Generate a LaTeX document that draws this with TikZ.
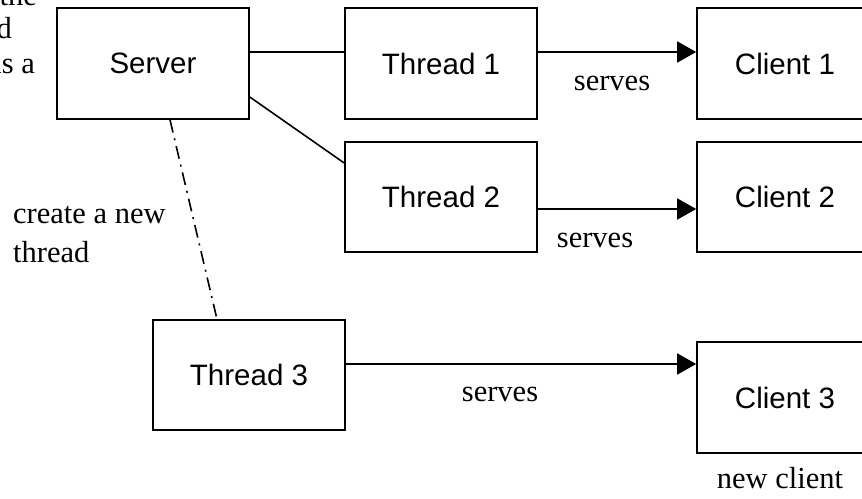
\documentclass[tikz,border=0pt]{standalone}
\usepackage{fontspec}
\setmainfont{Liberation Serif}
\newfontfamily\arialfont{Liberation Sans}
\usetikzlibrary{arrows.meta}
\begin{document}
\begin{tikzpicture}[x=1pt,y=-1pt,
  box/.style={draw, line width=1.6pt, rectangle, inner sep=0pt,
    font=\arialfont\fontsize{29.5}{35}\selectfont},
  thr/.style={box, minimum width=192pt, minimum height=110pt},
  cli/.style={box, minimum width=176pt, minimum height=111pt},
  conn/.style={line width=1.6pt},
  arr/.style={conn, -{Triangle[length=19pt,width=21pt]}},
  dashdot/.style={line width=1.6pt, dash pattern=on 13pt off 6pt on 2pt off 6pt},
  lbl/.style={inner sep=0pt, anchor=base, font=\fontsize{30.5}{36}\selectfont},
]
\clip (0,0) rectangle (862,498);
\fill[white] (0,0) rectangle (862,498);

% nodes
\node[thr, minimum height=111pt] (server) at (153,63.5) {Server};
\node[thr, minimum height=111pt] (thread1) at (441,63.5) {Thread 1};
\node[cli] (client1) at (785,63.5) {Client 1};
\node[thr] (thread2) at (441,197) {Thread 2};
\node[cli, minimum height=110pt] (client2) at (785,197) {Client 2};
\node[thr] (thread3) at (249,375) {Thread 3};
\node[cli] (client3) at (785,397.5) {Client 3};

% connectors
\draw[conn] ([yshift=11.5pt]server.east) -- ([yshift=11.5pt]thread1.west);
\draw[conn] ([yshift=-33.5pt]server.east) -- ([yshift=34pt]thread2.west);
\draw[arr] ([yshift=11.5pt]thread1.east) -- ([yshift=11.5pt]client1.west);
\draw[arr] ([yshift=-12pt]thread2.east) -- ([yshift=-12pt]client2.west);
\draw[arr] ([yshift=11pt]thread3.east) -- ([yshift=33.5pt]client3.west);
\draw[dashdot] ([xshift=17pt]server.south) -- ([xshift=-32pt]thread3.north);

% labels
\node[lbl] (s1) at (612,90) {serves};
\node[lbl] (s2) at (595,247) {serves};
\node[lbl] (s3) at (500,401.5) {serves};
\node[lbl, anchor=base west] (cr1) at (13,223) {create a new};
\node[lbl, anchor=base west] (cr2) at (13,262) {thread};
\node[lbl] (nc) at (780,488) {new client};

% cut-off text at top left
\node[lbl, anchor=base east] (t1) at (37,5) {the};
\node[lbl, anchor=base east] (t2) at (12,38) {d};
\node[lbl, anchor=base east] (t3) at (35,73) {as a};
\end{tikzpicture}
\end{document}
